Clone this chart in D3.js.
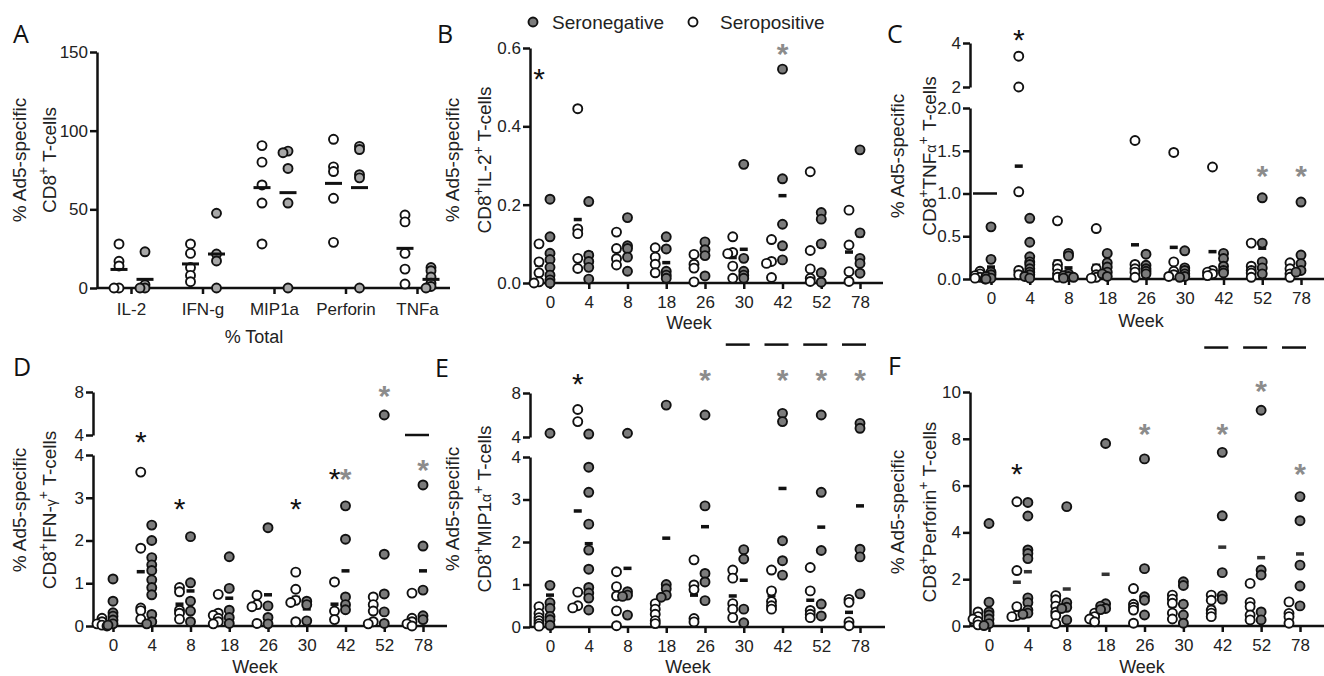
<!DOCTYPE html>
<html>
<head>
<meta charset="utf-8">
<script src="https://cdn.jsdelivr.net/npm/d3@7"></script>
<style>
body { margin: 0; background: #fff; }
svg { display: block; font-family: "Liberation Sans", Arial, sans-serif; }
</style>
</head>
<body>
<svg id="fig" width="1324" height="676" font-family="'Liberation Sans', Arial, sans-serif"></svg>
<script>
// ---- data ----
const totalCats = ['IL-2', 'IFN-g', 'MIP1a', 'Perforin', 'TNFa'];
const totalTicks = [0, 50, 100, 150];
const totalPos = [[28, 17, 14, 0, 0], [28, 22, 13, 8, 4], [90.5, 80, 65.5, 54, 28], [94.5, 77, 74, 57, 29], [46.4, 42, 22, 12, 2.5]];
const totalNeg = [[23, 2, 0, 0], [47.5, 21.6, 17.2, 0], [87, 86, 76, 54, 0], [90, 88, 72, 70, 0], [13, 11, 7, 3, 1, 0]];
const totalPosMean = [11.8, 15.3, 63.8, 66.5, 25.2];
const totalNegMean = [5.5, 21.6, 60.6, 63.8, 5.5];

const weeks = ['0', '4', '8', '18', '26', '30', '42', '52', '78'];

// B: IL-2
const il2Ticks = [0, 0.2, 0.4, 0.6];
const il2Pos = [[0.10, 0.054, 0.026, 0.003, 0.0], [0.445, 0.138, 0.126, 0.063, 0.037], [0.13, 0.088, 0.062, 0.046], [0.09, 0.066, 0.048, 0.026],
  [0.073, 0.048, 0.038, 0.003], [0.118, 0.078, 0.075, 0.043, 0.012], [0.111, 0.055, 0.05, 0.014], [0.284, 0.083, 0.036, 0.012, 0.004], [0.186, 0.097, 0.029, 0.004]];
const il2Neg = [[0.214, 0.118, 0.076, 0.06, 0.04, 0.02, 0.008, 0.0], [0.208, 0.071, 0.055, 0.04, 0.01], [0.167, 0.095, 0.088, 0.066, 0.03], [0.118, 0.087, 0.03, 0.02, 0.012],
  [0.105, 0.085, 0.07, 0.018], [0.303, 0.063, 0.03, 0.02, 0.012], [0.546, 0.266, 0.15, 0.095, 0.059], [0.18, 0.163, 0.1, 0.026, 0.002], [0.34, 0.128, 0.063, 0.05, 0.025]];
const il2PosMean = [0.046, 0.162, 0.082, 0.058, 0.045, 0.065, 0.058, 0.084, 0.079];
const il2NegMean = [0.067, 0.077, 0.089, 0.052, 0.07, 0.086, 0.223, 0.094, 0.121];
const il2Stars = [{week: '0', grp: 'pos', v: 0.539}, {week: '42', grp: 'neg', v: 0.603}];

// C: TNFa (broken axis at 2)
const tnfTicksLow = [0, 0.5, 1, 1.5, 2];
const tnfTicksHigh = [2, 4];
const tnfPos = [[0.09, 0.06, 0.04, 0.02, 0.01, 0.0], [3.4, 2.0, 1.02, 0.1, 0.05], [0.68, 0.17, 0.12, 0.06, 0.02], [0.59, 0.12, 0.05, 0.02, 0.01],
  [1.62, 0.17, 0.12, 0.08, 0.02], [1.48, 0.2, 0.09, 0.05, 0.03], [1.31, 0.1, 0.08, 0.06, 0.04], [0.42, 0.15, 0.1, 0.07, 0.02], [0.19, 0.12, 0.06, 0.02]];
const tnfNeg = [[0.61, 0.23, 0.08, 0.05, 0.03, 0.01, 0.0], [0.71, 0.43, 0.26, 0.2, 0.17, 0.12, 0.08, 0.05, 0.03, 0.01], [0.3, 0.27, 0.06, 0.04, 0.03, 0.02, 0.01],
  [0.3, 0.19, 0.14, 0.08, 0.06, 0.03], [0.29, 0.16, 0.12, 0.09, 0.06], [0.33, 0.13, 0.1, 0.06, 0.03, 0.02], [0.3, 0.24, 0.15, 0.1, 0.07], [0.95, 0.42, 0.2, 0.13, 0.06], [0.9, 0.28, 0.18, 0.1, 0.08]];
const tnfPosMean = [0.04, 1.32, 0.21, 0.16, 0.4, 0.37, 0.32, 0.15, 0.1];
const tnfNegMean = [0.14, 0.21, 0.13, 0.13, 0.14, 0.11, 0.17, 0.36, 0.29];
const tnfStars = [{week: '4', grp: 'pos', v: 4.45}, {week: '52', grp: 'neg', v: 1.29}, {week: '78', grp: 'neg', v: 1.29}];
const tnfBars = [{week: '0', v: 1.0}];

// D: IFN-g (broken axis at 4)
const ifnTicksLow = [0, 1, 2, 3, 4];
const ifnTicksHigh = [4, 8];
const ifnPos = [[0.18, 0.1, 0.05, 0.02, 0.0], [3.6, 1.82, 0.42, 0.36, 0.16], [0.9, 0.8, 0.37, 0.3, 0.16], [0.74, 0.3, 0.25, 0.18, 0.1, 0.05],
  [0.72, 0.5, 0.45, 0.06], [1.26, 0.86, 0.6, 0.55, 0.1], [1.03, 0.35, 0.15], [0.68, 0.5, 0.35, 0.1, 0.05], [0.77, 0.18, 0.1, 0.05, 0.0]];
const ifnNeg = [[1.1, 0.58, 0.31, 0.23, 0.14, 0.05, 0.02], [2.36, 2.0, 1.6, 1.43, 1.3, 1.08, 0.9, 0.73, 0.27, 0.1, 0.05], [2.09, 1.01, 0.58, 0.35, 0.1],
  [1.62, 0.88, 0.37, 0.2, 0.06], [2.3, 0.47, 0.2, 0.05], [0.58, 0.5, 0.12], [2.81, 2.03, 0.68, 0.5, 0.38], [5.86, 1.68, 0.75, 0.33, 0.06], [3.3, 1.87, 0.84, 0.24, 0.15]];
const ifnPosMean = [0.07, 1.27, 0.51, 0.27, 0.43, 0.67, 0.51, 0.34, 0.22];
const ifnNegMean = [0.35, 1.08, 0.82, 0.65, 0.73, 0.4, 1.29, 1.7, 1.29];
const ifnStars = [{week: '4', grp: 'pos', v: 4.0}, {week: '8', grp: 'pos', v: 2.9}, {week: '30', grp: 'pos', v: 2.9}, {week: '42', grp: 'pos', v: 3.6},
  {week: '42', grp: 'neg', v: 3.6}, {week: '52', grp: 'neg', v: 8.28}, {week: '78', grp: 'neg', v: 3.81}];
const ifnBars = [{week: '78', v: 4.0}];

// E: MIP1a (broken axis at 4)
const mipTicksLow = [0, 1, 2, 3, 4];
const mipTicksHigh = [4, 8];
const mipPos = [[0.48, 0.32, 0.22, 0.15, 0.08, 0.02], [6.5, 5.4, 0.82, 0.5, 0.45], [1.3, 0.95, 0.73, 0.38, 0.03], [0.55, 0.42, 0.3, 0.15, 0.08],
  [1.58, 0.99, 0.88, 0.2, 0.12], [1.34, 1.15, 0.55, 0.42, 0.22], [1.34, 0.85, 0.6, 0.5, 0.42], [1.4, 0.85, 0.39, 0.3, 0.22], [0.65, 0.58, 0.12, 0.03]];
const mipNeg = [[4.34, 0.98, 0.57, 0.44, 0.25, 0.17, 0.04], [4.27, 3.76, 3.17, 2.42, 1.81, 1.36, 0.93, 0.8, 0.68, 0.4], [4.34, 0.83, 0.75, 0.72, 0.28],
  [6.9, 1.0, 0.9, 0.75, 0.7], [6.0, 2.85, 1.26, 1.06, 0.62], [1.82, 1.6, 0.42, 0.1], [6.15, 5.4, 2.03, 1.56, 1.22], [6.0, 3.17, 1.8, 0.54, 0.26], [5.24, 4.79, 1.83, 1.65, 0.78]];
const mipPosMean = [0.21, 2.73, 0.68, 0.3, 0.75, 0.73, 0.74, 0.63, 0.345];
const mipNegMean = [0.75, 1.96, 1.38, 2.09, 2.36, 1.1, 3.26, 2.35, 2.85];
const mipStars = [{week: '4', grp: 'pos', v: 9.45}, {week: '26', grp: 'neg', v: 9.8}, {week: '42', grp: 'neg', v: 9.8},
  {week: '52', grp: 'neg', v: 9.8}, {week: '78', grp: 'neg', v: 9.8}];
const mipBars = [{week: '30', v: 12.4}, {week: '42', v: 12.4}, {week: '52', v: 12.4}, {week: '78', v: 12.4}];

// F: Perforin
const perfTicks = [0, 2, 4, 6, 8, 10];
const perfPos = [[0.6, 0.4, 0.3, 0.2, 0.05], [5.31, 2.37, 0.83, 0.45, 0.4], [1.3, 1.12, 0.85, 0.6, 0.45, 0.1], [0.55, 0.4, 0.3, 0.18],
  [1.6, 0.93, 0.8, 0.68, 0.12], [1.32, 1.15, 0.97, 0.55, 0.3], [1.32, 1.1, 0.68, 0.55, 0.4], [1.82, 1.01, 0.83, 0.47, 0.26], [1.03, 0.54, 0.4, 0.12]];
const perfNeg = [[4.38, 1.02, 0.6, 0.47, 0.3, 0.1, 0.02], [5.28, 4.7, 3.25, 3.1, 2.88, 1.2, 1.0, 0.68, 0.55, 0.5], [5.1, 1.0, 0.8, 0.75, 0.26],
  [7.8, 0.95, 0.85, 0.75, 0.7], [7.14, 2.45, 1.25, 1.1, 0.47], [1.89, 1.73, 0.93, 0.47, 0.12], [7.42, 4.71, 2.28, 1.3, 1.15], [9.22, 2.39, 2.18, 0.6, 0.26], [5.53, 4.5, 2.6, 1.71, 0.86]];
const perfPosMean = [0.31, 1.87, 0.74, 0.36, 0.83, 0.86, 0.81, 0.88, 0.47];
const perfNegMean = [0.98, 2.32, 1.58, 2.21, 2.48, 1.03, 3.37, 2.92, 3.08];
const perfStars = [{week: '4', grp: 'pos', v: 6.8}, {week: '26', grp: 'neg', v: 8.5}, {week: '42', grp: 'neg', v: 8.5},
  {week: '52', grp: 'neg', v: 10.34}, {week: '78', grp: 'neg', v: 6.8}];
const perfBars = [{week: '42', v: 11.9}, {week: '52', v: 11.9}, {week: '78', v: 11.9}];

// ---- drawing ----
const svg = d3.select('#fig');
const ink = '#111';
const fmt1 = d3.format('.1f');
const fmt0 = d3.format('d');

function styleAxis(ax) {
  ax.attr('font-family', null).attr('font-size', null);
  ax.selectAll('path, line').attr('stroke', ink).attr('stroke-width', 2.5);
  ax.selectAll('text').attr('fill', '#222').style('font-size', '17px');
}

function yAxis(g, scale, ticks, fmt, x0) {
  const ax = g.append('g')
    .attr('transform', `translate(${x0},0)`)
    .call(d3.axisLeft(scale).tickValues(ticks).tickFormat(fmt).tickSize(7).tickSizeOuter(0).tickPadding(2));
  styleAxis(ax);
}

// spread points that would sit on top of each other
function spread(vals, cx, y) {
  const placed = [];
  const offs = [0, -5, 5, -10, 10, -15, 15];
  return vals.map(v => {
    const cy = y(v);
    let px = cx;
    for (const o of offs) {
      px = cx + o;
      if (!placed.some(p => Math.abs(p[0] - px) < 4 && Math.abs(p[1] - cy) < 2.5)) break;
    }
    placed.push([px, cy]);
    return {x: px, y: cy};
  });
}

function dots(g, vals, cx, y, fill) {
  g.append('g').selectAll('circle')
    .data(spread(vals, cx, y))
    .join('circle')
      .attr('cx', d => d.x)
      .attr('cy', d => d.y)
      .attr('r', 4.5)
      .attr('fill', fill)
      .attr('stroke', ink)
      .attr('stroke-width', 1.9);
}

function panelLetter(t, x, y) {
  svg.append('text')
    .attr('x', x).attr('y', y)
    .attr('font-family', '"Open Sans", sans-serif')
    .attr('font-size', 25)
    .attr('fill', ink)
    .text(t);
}

function yLabel(x1, x2, cy, parts) {
  svg.append('text')
    .attr('transform', `translate(${x1},${cy}) rotate(-90)`)
    .attr('text-anchor', 'middle')
    .attr('font-size', 19)
    .attr('fill', '#222')
    .text('% Ad5-specific');
  const t = svg.append('text')
    .attr('transform', `translate(${x2},${cy}) rotate(-90)`)
    .attr('text-anchor', 'middle')
    .attr('font-size', 19)
    .attr('fill', '#222');
  parts.forEach(p => {
    const s = t.append('tspan').text(p[0]);
    if (p[1] === 'sup') s.attr('baseline-shift', 'super').attr('font-size', 14);
    if (p[1] === 'small') s.attr('font-size', 14);
  });
}

function star(g, x, y, grp) {
  g.append('text')
    .attr('x', x).attr('y', y + 17)
    .attr('text-anchor', 'middle')
    .attr('font-size', 30)
    .attr('font-weight', grp === 'neg' ? 'bold' : 'normal')
    .attr('fill', grp === 'neg' ? '#8c8c8c' : ink)
    .text('*');
}

// Panel A
(() => {
  const g = svg.append('g');
  const x = d3.scalePoint().domain(totalCats).range([131, 417]);
  const y = d3.scaleLinear().domain([0, 150]).range([288, 52]);
  g.append('line').attr('x1', 97).attr('x2', 450).attr('y1', y(0)).attr('y2', y(0))
    .attr('stroke', ink).attr('stroke-width', 2.5);
  const xa = g.append('g').attr('transform', `translate(0,${y(0)})`)
    .call(d3.axisBottom(x).tickSize(6).tickPadding(9));
  xa.select('.domain').remove();
  styleAxis(xa);
  yAxis(g, y, totalTicks, fmt0, 97);

  totalCats.forEach((c, i) => {
    dots(g, totalPos[i], x(c) - 12, y, '#fff');
    dots(g, totalNeg[i], x(c) + 14, y, '#a8a8a8');
  });
  totalCats.forEach((c, i) => {
    g.append('rect').attr('x', x(c) - 12 - 8.5).attr('y', y(totalPosMean[i]) - 1.5)
      .attr('width', 17).attr('height', 3).attr('fill', ink);
    g.append('rect').attr('x', x(c) + 14 - 8.5).attr('y', y(totalNegMean[i]) - 1.5)
      .attr('width', 17).attr('height', 3).attr('fill', ink);
  });
  g.append('text').attr('x', 254).attr('y', 343).attr('text-anchor', 'middle')
    .attr('font-size', 18).attr('fill', '#222').text('% Total');
})();

function weekPanel(c) {
  const g = svg.append('g');
  const x = d3.scalePoint().domain(weeks).range(c.xRange);
  const yBot = d3.scaleLinear().domain(c.bot[0]).range(c.bot[1]);
  const yTop = c.top ? d3.scaleLinear().domain(c.top[0]).range(c.top[1]) : null;
  const y = v => (yTop && v >= c.top[0][0]) ? yTop(v) : yBot(v);
  const base = yBot(0);
  const posX = w => x(w) - 11;

  g.append('line').attr('x1', c.axisX[0]).attr('x2', c.axisX[1]).attr('y1', base).attr('y2', base)
    .attr('stroke', ink).attr('stroke-width', 2.5);
  const xa = g.append('g').attr('transform', `translate(0,${base})`)
    .call(d3.axisBottom(x).tickSize(6).tickPadding(7));
  xa.select('.domain').remove();
  styleAxis(xa);
  yAxis(g, yBot, c.botTicks, c.botFmt, c.axisX[0]);
  if (yTop) yAxis(g, yTop, c.topTicks, c.topFmt, c.axisX[0]);

  g.append('text').attr('x', c.weekPos[0]).attr('y', c.weekPos[1]).attr('text-anchor', 'middle')
    .attr('font-size', 18).attr('fill', '#222').text('Week');

  // mean dashes sit underneath the points
  weeks.forEach((w, i) => {
    g.append('rect').attr('x', posX(w) - 4).attr('y', y(c.posMean[i]) - 1.75)
      .attr('width', 8).attr('height', 3.5).attr('fill', c.dash);
    g.append('rect').attr('x', x(w) - 4).attr('y', y(c.negMean[i]) - 1.75)
      .attr('width', 8).attr('height', 3.5).attr('fill', c.dash);
  });
  weeks.forEach((w, i) => {
    dots(g, c.pos[i], posX(w), y, '#fff');
    dots(g, c.neg[i], x(w), y, '#7b7b7b');
  });
  c.stars.forEach(s => star(g, s.grp === 'pos' ? posX(s.week) : x(s.week), y(s.v), s.grp));
  (c.bars || []).forEach(b => {
    g.append('line').attr('x1', x(b.week) - 18).attr('x2', x(b.week) + 6)
      .attr('y1', y(b.v)).attr('y2', y(b.v)).attr('stroke', ink).attr('stroke-width', 2.5);
  });
}

weekPanel({
  xRange: [550, 860], axisX: [530, 883], bot: [[0, 0.6], [283, 48]],
  botTicks: il2Ticks, botFmt: fmt1, weekPos: [689, 329], dash: ink,
  pos: il2Pos, neg: il2Neg, posMean: il2PosMean, negMean: il2NegMean, stars: il2Stars
});
weekPanel({
  xRange: [991, 1301], axisX: [970, 1324], bot: [[0, 2], [279, 108]], top: [[2, 4], [87, 43]],
  botTicks: tnfTicksLow, botFmt: fmt1, topTicks: tnfTicksHigh, topFmt: fmt0, weekPos: [1141, 327], dash: ink,
  pos: tnfPos, neg: tnfNeg, posMean: tnfPosMean, negMean: tnfNegMean, stars: tnfStars, bars: tnfBars
});
weekPanel({
  xRange: [113, 423], axisX: [93, 447], bot: [[0, 4], [626, 455]], top: [[4, 8], [435, 392]],
  botTicks: ifnTicksLow, botFmt: fmt0, topTicks: ifnTicksHigh, topFmt: fmt0, weekPos: [255, 673], dash: ink,
  pos: ifnPos, neg: ifnNeg, posMean: ifnPosMean, negMean: ifnNegMean, stars: ifnStars, bars: ifnBars
});
weekPanel({
  xRange: [550, 860], axisX: [530, 885], bot: [[0, 4], [627, 457]], top: [[4, 8], [437, 393]],
  botTicks: mipTicksLow, botFmt: fmt0, topTicks: mipTicksHigh, topFmt: fmt0, weekPos: [688, 673], dash: ink,
  pos: mipPos, neg: mipNeg, posMean: mipPosMean, negMean: mipNegMean, stars: mipStars, bars: mipBars
});
weekPanel({
  xRange: [989, 1300], axisX: [970, 1324], bot: [[0, 10], [626, 392]],
  botTicks: perfTicks, botFmt: fmt0, weekPos: [1142, 673], dash: '#333',
  pos: perfPos, neg: perfNeg, posMean: perfPosMean, negMean: perfNegMean, stars: perfStars, bars: perfBars
});

// axis titles and panel letters
yLabel(26, 56, 160, [['CD8'], ['+', 'sup'], [' T-cells']]);
yLabel(459, 491, 160, [['CD8'], ['+', 'sup'], ['IL-2'], ['+', 'sup'], [' T-cells']]);
yLabel(904, 936, 156, [['CD8'], ['+', 'sup'], ['TNF'], ['α', 'small'], ['+', 'sup'], [' T-cells']]);
yLabel(26, 56, 510, [['CD8'], ['+', 'sup'], ['IFN-'], ['γ', 'small'], ['+', 'sup'], [' T-cells']]);
yLabel(459, 491, 509, [['CD8'], ['+', 'sup'], ['MIP1'], ['α', 'small'], ['+', 'sup'], [' T-cells']]);
yLabel(904, 936, 512, [['CD8'], ['+', 'sup'], ['Perforin'], ['+', 'sup'], [' T-cells']]);

panelLetter('A', 13, 43);
panelLetter('B', 437, 43);
panelLetter('C', 887, 43);
panelLetter('D', 13, 376);
panelLetter('E', 435, 377);
panelLetter('F', 888, 375);

// legend
const legend = svg.append('g').attr('font-size', 19).attr('fill', '#222');
legend.append('circle').attr('cx', 533).attr('cy', 22).attr('r', 4.5)
  .attr('fill', '#7b7b7b').attr('stroke', ink).attr('stroke-width', 1.9);
legend.append('text').attr('x', 552).attr('y', 29).text('Seronegative');
legend.append('circle').attr('cx', 693).attr('cy', 22).attr('r', 4.5)
  .attr('fill', '#fff').attr('stroke', ink).attr('stroke-width', 1.9);
legend.append('text').attr('x', 720).attr('y', 29).text('Seropositive');
</script>
</body>
</html>
